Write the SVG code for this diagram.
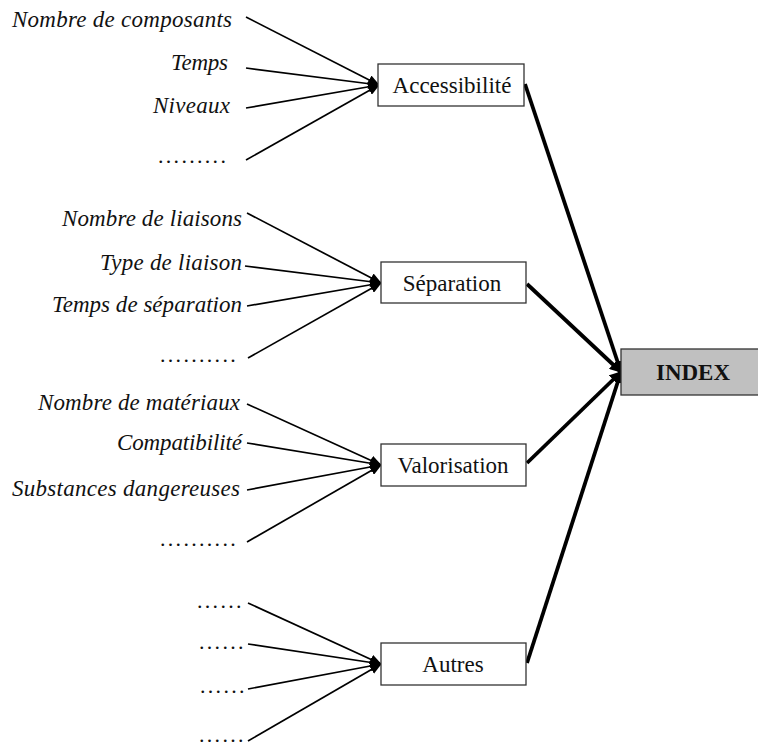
<svg xmlns="http://www.w3.org/2000/svg" width="758" height="747" viewBox="0 0 758 747">
<style>
.lbl{font-family:"Liberation Serif","Times New Roman",serif;font-style:italic;font-size:23px;fill:#111;text-anchor:end}
.dots{font-family:"Liberation Serif","Times New Roman",serif;font-size:22px;fill:#111;letter-spacing:2.3px}
.box{fill:#fff;stroke:#333;stroke-width:1.3}
.idx{fill:#c0c0c0;stroke:#333;stroke-width:1.3}
.bt{font-family:"Liberation Serif","Times New Roman",serif;font-size:23px;fill:#111;text-anchor:middle}
.thin{stroke:#000;stroke-width:1.7;fill:none;marker-end:url(#ah)}
.thick{stroke:#000;stroke-width:3.8;fill:none;marker-end:url(#ahb)}
</style>
<defs>
<marker id="ah" markerUnits="userSpaceOnUse" markerWidth="12" markerHeight="10" refX="11" refY="5" orient="auto">
<path d="M0,0 L12,5 L0,10 Z" fill="#000"/>
</marker>
<marker id="ahb" markerUnits="userSpaceOnUse" markerWidth="12" markerHeight="12" refX="11" refY="6" orient="auto">
<path d="M0,0 L12,6 L0,12 Z" fill="#000"/>
</marker>
</defs>
<rect width="758" height="747" fill="#fff"/>

<g id="connectors">
<line class="thin" x1="246" y1="17" x2="379" y2="85"/>
<line class="thin" x1="246" y1="68" x2="379" y2="85"/>
<line class="thin" x1="246" y1="108" x2="379" y2="85"/>
<line class="thin" x1="246" y1="160" x2="379" y2="85"/>

<line class="thin" x1="247" y1="213" x2="381" y2="283"/>
<line class="thin" x1="245" y1="266" x2="381" y2="283"/>
<line class="thin" x1="247" y1="306" x2="381" y2="283"/>
<line class="thin" x1="248" y1="358" x2="381" y2="283"/>

<line class="thin" x1="247" y1="404" x2="381" y2="465"/>
<line class="thin" x1="247" y1="443" x2="381" y2="465"/>
<line class="thin" x1="247" y1="490" x2="381" y2="465"/>
<line class="thin" x1="247" y1="542" x2="381" y2="465"/>

<line class="thin" x1="248" y1="603" x2="381" y2="664"/>
<line class="thin" x1="248" y1="644" x2="381" y2="664"/>
<line class="thin" x1="248" y1="689" x2="381" y2="664"/>
<line class="thin" x1="248" y1="741" x2="381" y2="664"/>

<line class="thick" x1="525" y1="84" x2="621" y2="372"/>
<line class="thick" x1="527" y1="284" x2="621" y2="372"/>
<line class="thick" x1="527" y1="463" x2="621" y2="372"/>
<line class="thick" x1="527" y1="663" x2="621" y2="372"/>
</g>

<g id="labels-accessibilite">
<text class="lbl" x="232" y="27" textLength="220">Nombre de composants</text>
<text class="lbl" x="228" y="70" textLength="57">Temps</text>
<text class="lbl" x="230" y="113" textLength="77">Niveaux</text>
<text class="dots" x="158" y="163">.........</text>
</g>
<g id="labels-separation">
<text class="lbl" x="242" y="226" textLength="180">Nombre de liaisons</text>
<text class="lbl" x="242" y="270" textLength="142">Type de liaison</text>
<text class="lbl" x="242" y="312" textLength="190">Temps de séparation</text>
<text class="dots" x="160" y="362">..........</text>
</g>
<g id="labels-valorisation">
<text class="lbl" x="240" y="410" textLength="202">Nombre de matériaux</text>
<text class="lbl" x="242" y="450" textLength="125">Compatibilité</text>
<text class="lbl" x="240" y="496" textLength="228">Substances dangereuses</text>
<text class="dots" x="160" y="546">..........</text>
</g>
<g id="labels-autres">
<text class="dots" x="197" y="608">......</text>
<text class="dots" x="199" y="649">......</text>
<text class="dots" x="200" y="693">......</text>
<text class="dots" x="199" y="742">......</text>
</g>

<g id="node-accessibilite">
<rect class="box" x="378" y="64" width="146" height="42"/>
<text class="bt" x="452" y="93">Accessibilité</text>
</g>
<g id="node-separation">
<rect class="box" x="381" y="262" width="145" height="41"/>
<text class="bt" x="452" y="291">Séparation</text>
</g>
<g id="node-valorisation">
<rect class="box" x="381" y="444" width="145" height="42"/>
<text class="bt" x="453" y="473">Valorisation</text>
</g>
<g id="node-autres">
<rect class="box" x="381" y="643" width="145" height="42"/>
<text class="bt" x="453" y="672">Autres</text>
</g>
<g id="node-index">
<rect class="idx" x="621" y="349" width="145" height="46"/>
<text class="bt" x="693" y="380" font-weight="bold">INDEX</text>
</g>
</svg>
